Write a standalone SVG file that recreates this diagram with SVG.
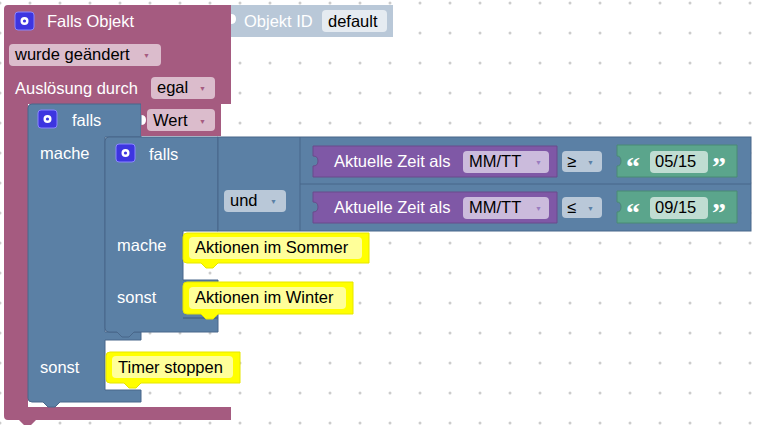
<svg xmlns="http://www.w3.org/2000/svg" width="758" height="431" viewBox="0 0 758 431">
<defs>
<pattern id="dots" x="0" y="3" width="30" height="30" patternUnits="userSpaceOnUse"><circle cx="0" cy="0" r="1.5" fill="#ccc"/><circle cx="30" cy="0" r="1.5" fill="#ccc"/><circle cx="0" cy="30" r="1.5" fill="#ccc"/><circle cx="30" cy="30" r="1.5" fill="#ccc"/></pattern>
<style>
text{font-family:"Liberation Sans",Arial,sans-serif;font-size:16.5px}
.w{fill:#fff}.k{fill:#000}
.ar{font-size:7px}
.pink{fill:#a55b80}.blue{fill:#5b80a5;stroke:#49678a;stroke-width:1}
.purple{fill:#7f58a6;stroke:#6a4a8c}.green{fill:#5ba58c;stroke:#4a8a74}
.yel{fill:#ffff00;stroke:#e6e600}.yin{fill:#ffff99}
.q{font-family:"Liberation Serif",serif;font-size:28px;font-weight:bold;fill:#fff}
.gear{fill:#3d35e0;stroke:#8a86ff}
</style>
</defs>
<rect width="758" height="431" fill="#fff"/>
<rect x="0" y="0" width="758" height="431" fill="url(#dots)"/>
<g id="trigger">
<path class="pink" d="M8,5 H231 V104 H28 V407 H231 V420 H36 L31,425 H24 L19,420 H8 Q4,420 4,416 V9 Q4,5 8,5 Z"/>
<rect x="15" y="12" width="19" height="18" rx="3" class="gear"/>
<circle cx="24.5" cy="21" r="4" fill="#fff"/><circle cx="24.5" cy="21" r="1.6" fill="#3d35e0"/>
<text x="47" y="27" class="w">Falls Objekt</text>
<rect x="9" y="44" width="152" height="22" rx="4" fill="#dbbccc"/>
<text x="15" y="60" class="k">wurde geändert</text><text x="143" y="58" class="ar" fill="#a55b80">▼</text>
<text x="15" y="94" class="w">Auslösung durch</text>
<rect x="151" y="77" width="64" height="22" rx="4" fill="#dbbccc"/>
<text x="157" y="93" class="k">egal</text><text x="199" y="91" class="ar" fill="#a55b80">▼</text>
</g>
<g id="objid">
<path d="M231,5 H393 V37 H231 V24 Q236,24 236,19 Q236,14 231,14 Z" fill="#b9c8d8"/>
<text x="244" y="27" class="w">Objekt ID</text>
<rect x="322" y="10" width="65" height="22" rx="4" fill="#e5ebf1"/>
<text x="328" y="27" class="k">default</text>
</g>
<g id="if-outer">
<path class="blue" d="M32,104 H141 V137 H105 V332 H141 V340 H105 V390 H141 V402 H60 L55,407 H48 L43,402 H32 Q28,402 28,398 V108 Q28,104 32,104 Z"/>
<rect x="38" y="110" width="19" height="18" rx="3" class="gear"/>
<circle cx="47.5" cy="119" r="4" fill="#fff"/><circle cx="47.5" cy="119" r="1.6" fill="#3d35e0"/>
<text x="72" y="126" class="w">falls</text>
<text x="40" y="159" class="w">mache</text>
<text x="40" y="373" class="w">sonst</text>
</g>
<g id="wert">
<path class="pink" d="M141,104 H221 V136 H141 V125 Q146,125 146,120 Q146,115 141,115 Z"/>
<rect x="147" y="109" width="68" height="22" rx="4" fill="#dbbccc"/>
<text x="153" y="126" class="k">Wert</text><text x="199" y="124" class="ar" fill="#a55b80">▼</text>
</g>
<g id="if-inner">
<path class="blue" d="M109,137 H218 V231 H183 V280 H218 V318 H183 V318 H218 V332 H134 L129,337 H122 L117,332 H109 Q105,332 105,328 V141 Q105,137 109,137 Z"/>
<rect x="116" y="144" width="19" height="18" rx="3" class="gear"/>
<circle cx="125.5" cy="153" r="4" fill="#fff"/><circle cx="125.5" cy="153" r="1.6" fill="#3d35e0"/>
<text x="149" y="160" class="w">falls</text>
<text x="117" y="251" class="w">mache</text>
<text x="117" y="303" class="w">sonst</text>
</g>
<g id="und">
<rect x="218" y="137" width="533" height="94" class="blue"/>
<line x1="300" y1="137" x2="300" y2="231" stroke="#49678a"/>
<line x1="300" y1="184" x2="751" y2="184" stroke="#49678a"/>
<rect x="224" y="190" width="62" height="22" rx="4" fill="#b9c8d8"/>
<text x="230" y="206" class="k">und</text><text x="270" y="204" class="ar" fill="#5b80a5">▼</text>
</g>
<g id="cmp1">
<path class="purple" d="M313,146 H557 V177 H313 V166 Q318,166 318,161 Q318,156 313,156 Z"/>
<text x="334" y="167" class="w">Aktuelle Zeit als</text>
<rect x="463" y="151" width="86" height="22" rx="4" fill="#cbbbdc"/>
<text x="469" y="167" class="k">MM/TT</text><text x="535" y="165" class="ar" fill="#9a7cbf">▼</text>
<rect x="562" y="151" width="40" height="21" rx="4" fill="#b9c8d8"/>
<text x="567" y="167" class="k">≥</text><text x="587" y="165" class="ar" fill="#5b80a5">▼</text>
<path class="green" d="M617,145 H737 V177 H617 V166 Q621,166 621,161 Q621,156 617,156 Z"/>
<text x="626" y="176" class="q">“</text>
<rect x="650" y="151" width="58" height="22" rx="4" fill="#c0ddd2"/>
<text x="655" y="167" class="k">05/15</text>
<text x="712" y="176" class="q">”</text>
</g>
<g id="cmp2">
<path class="purple" d="M313,192 H557 V223 H313 V212 Q318,212 318,207 Q318,202 313,202 Z"/>
<text x="334" y="213" class="w">Aktuelle Zeit als</text>
<rect x="463" y="197" width="86" height="22" rx="4" fill="#cbbbdc"/>
<text x="469" y="213" class="k">MM/TT</text><text x="535" y="211" class="ar" fill="#9a7cbf">▼</text>
<rect x="562" y="197" width="40" height="21" rx="4" fill="#b9c8d8"/>
<text x="567" y="213" class="k">≤</text><text x="587" y="211" class="ar" fill="#5b80a5">▼</text>
<path class="green" d="M617,191 H737 V223 H617 V212 Q621,212 621,207 Q621,202 617,202 Z"/>
<text x="626" y="222" class="q">“</text>
<rect x="650" y="197" width="58" height="22" rx="4" fill="#c0ddd2"/>
<text x="655" y="213" class="k">09/15</text>
<text x="712" y="222" class="q">”</text>
</g>
<g id="sommer">
<path class="yel" d="M187,233 H369 V263 H218 L213,268 H206 L201,263 H187 Q183,263 183,259 V237 Q183,233 187,233 Z"/>
<rect x="189" y="237" width="173" height="22" rx="4" class="yin"/>
<text x="195" y="253" class="k">Aktionen im Sommer</text>
</g>
<g id="winter">
<path class="yel" d="M187,282 H353 V314 H218 L213,319 H206 L201,314 H187 Q183,314 183,310 V286 Q183,282 187,282 Z"/>
<rect x="189" y="287" width="157" height="22" rx="4" class="yin"/>
<text x="195" y="303" class="k">Aktionen im Winter</text>
</g>
<g id="timer">
<path class="yel" d="M110,352 H240 V383 H141 L136,388 H129 L124,383 H110 Q106,383 106,379 V356 Q106,352 110,352 Z"/>
<rect x="112" y="356" width="121" height="22" rx="4" class="yin"/>
<text x="118" y="373" class="k">Timer stoppen</text>
</g>
<g id="connectors"/>
</svg>
